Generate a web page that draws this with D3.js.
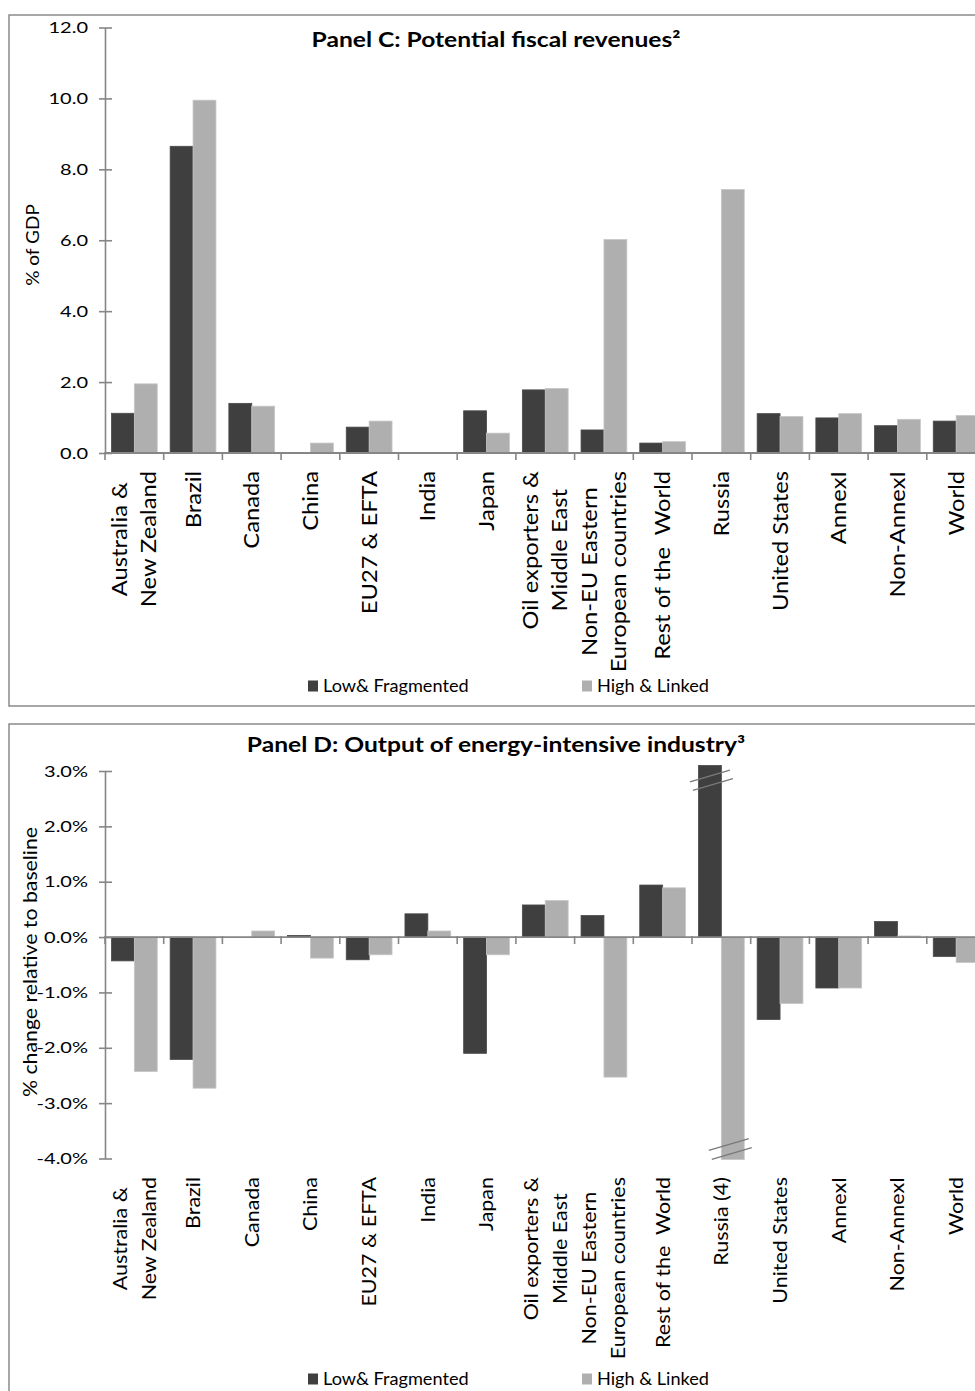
<!DOCTYPE html>
<html>
<head>
<meta charset="utf-8">
<script src="https://cdn.jsdelivr.net/npm/d3@7"></script>
<style>
  body { margin: 0; background: #fff; }
  svg { display: block; }
  text { font-family: Lato, "Open Sans", sans-serif; fill: #000; white-space: pre; }
</style>
</head>
<body>
<svg id="chart"></svg>
<script>
var width = 975;
var height = 1391;

// categories (each entry = lines of the rotated label)
var categoriesC = [["Australia &", "New Zealand"], ["Brazil"], ["Canada"], ["China"], ["EU27 & EFTA"],
  ["India"], ["Japan"], ["Oil exporters &", "Middle East"], ["Non-EU Eastern", "European countries"],
  ["Rest of the  World"], ["Russia"], ["United States"], ["AnnexI"], ["Non-AnnexI"], ["World"]];
var categoriesD = [["Australia &", "New Zealand"], ["Brazil"], ["Canada"], ["China"], ["EU27 & EFTA"],
  ["India"], ["Japan"], ["Oil exporters &", "Middle East"], ["Non-EU Eastern", "European countries"],
  ["Rest of the  World"], ["Russia (4)"], ["United States"], ["AnnexI"], ["Non-AnnexI"], ["World"]];

var seriesNames = ["Low& Fragmented", "High & Linked"];
var seriesColors = ["#3f3f3f", "#afafaf"];

// Panel C: % of GDP
var lowC  = [1.12, 8.65, 1.40, 0.00, 0.73, 0.00, 1.19, 1.78, 0.65, 0.28, 0.00, 1.11, 0.99, 0.77, 0.90];
var highC = [1.95, 9.95, 1.32, 0.28, 0.90, 0.00, 0.56, 1.82, 6.02, 0.32, 7.43, 1.03, 1.11, 0.95, 1.06];
var ticksC = [0, 2, 4, 6, 8, 10, 12];

// Panel D: % change relative to baseline (Russia values run off the axis, shown cut)
var lowD  = [-0.43, -2.21, 0.00, 0.03, -0.41, 0.42, -2.10, 0.58, 0.39, 0.94, 3.10, -1.49, -0.92, 0.28, -0.35];
var highD = [-2.43, -2.73, 0.11, -0.38, -0.32, 0.11, -0.32, 0.66, -2.53, 0.89, -4.02, -1.20, -0.92, 0.02, -0.46];
var ticksD = [-4, -3, -2, -1, 0, 1, 2, 3];

var SX = 1.13;          // text in the original is stretched along its reading direction
var axisColor = "#868686";

var svg = d3.select("#chart").attr("width", width).attr("height", height);

////////////////////////////////////////////////////////////////////////////////
//                                                                     Panels //
////////////////////////////////////////////////////////////////////////////////

drawPanel({
  box: [9, 15, 1010, 691],
  cats: categoriesC, low: lowC, high: highC, ticks: ticksC,
  domain: [0, 12], range: [453, 27.5],
  fmt: function(d) { return d.toFixed(1); },
  title: "Panel C: Potential fiscal revenues\u00b2", titleY: 47,
  yTitle: "% of GDP", yTitleX: 33, yTitleY: 245, yTitleSize: 17,
  labelTop: 471, labelSize: 21, legendY: 686,
  breaks: false
});

drawPanel({
  box: [9, 724, 1010, 700],
  cats: categoriesD, low: lowD, high: highD, ticks: ticksD,
  domain: [-4, 3], range: [1158.5, 771],
  fmt: function(d) { return d.toFixed(1) + "%"; },
  title: "Panel D: Output of energy-intensive industry\u00b3", titleY: 752,
  yTitle: "% change relative to baseline", yTitleX: 30, yTitleY: 962, yTitleSize: 19,
  labelTop: 1177, labelSize: 19, legendY: 1379,
  breaks: true
});

function drawPanel(o) {
  var g = svg.append("g");
  var n = o.cats.length;

  g.append("rect")
    .attr("x", o.box[0]).attr("y", o.box[1])
    .attr("width", o.box[2]).attr("height", o.box[3])
    .attr("fill", "#fff").attr("stroke", "#8a8a8a").attr("stroke-width", 1.5);

  var x0 = d3.scaleBand().domain(d3.range(n)).range([105, 105 + n * 58.7]);
  var bw = x0.bandwidth();
  var x1 = d3.scaleBand().domain([0, 1]).range([bw * 0.11, bw * 0.89]);
  var y = d3.scaleLinear().domain(o.domain).range(o.range);

  // bars
  [o.low, o.high].forEach(function(values, s) {
    g.append("g").selectAll("rect")
      .data(values)
      .join("rect")
        .attr("x", function(d, i) { return x0(i) + x1(s); })
        .attr("width", x1.bandwidth())
        .attr("y", function(d) { return Math.min(y(d), y(0)); })
        .attr("height", function(d) { return Math.abs(y(d) - y(0)); })
        .attr("fill", seriesColors[s])
        .attr("stroke", s == 0 ? "#4a4a4a" : "#c6c6c6")
        .attr("stroke-width", 0.8);
  });

  // axis break marks on the cut Russia bars
  if (o.breaks) {
    var ri = 10;
    var marks = [
      [x0(ri) + x1(0) + x1.bandwidth() / 2, y(3) + 5],
      [x0(ri) + x1(0) + x1.bandwidth() / 2 + 3, y(3) + 13.5],
      [x0(ri) + x1(1) + x1.bandwidth() / 2 - 4, y(-4) - 14],
      [x0(ri) + x1(1) + x1.bandwidth() / 2 - 1, y(-4) - 5]
    ];
    g.selectAll(".brk")
      .data(marks)
      .join("line")
        .attr("x1", function(d) { return d[0] - 20; })
        .attr("y1", function(d) { return d[1] + 5.8; })
        .attr("x2", function(d) { return d[0] + 20; })
        .attr("y2", function(d) { return d[1] - 5.8; })
        .attr("stroke", "#7a7a7a").attr("stroke-width", 1.4);
  }

  // y axis
  var ya = g.append("g")
    .attr("transform", "translate(105,0)")
    .call(d3.axisLeft(y).tickValues(o.ticks).tickSizeOuter(0).tickSizeInner(6).tickFormat(o.fmt));
  ya.select(".domain").attr("stroke", axisColor).attr("stroke-width", 1.6);
  ya.selectAll(".tick line").attr("x1", 7).attr("stroke", axisColor).attr("stroke-width", 1.6);
  ya.selectAll(".tick text")
    .attr("x", 0)
    .attr("transform", "translate(-17,0) scale(1.25,1)")
    .attr("font-family", null)
    .attr("font-size", 16)
    .attr("fill", "#000");

  // x axis line at zero with ticks between categories
  var y0 = y(0);
  g.append("line")
    .attr("x1", x0.range()[0]).attr("x2", x0.range()[1])
    .attr("y1", y0).attr("y2", y0)
    .attr("stroke", axisColor).attr("stroke-width", 1.8);
  g.append("g").selectAll("line")
    .data(d3.range(n + 1))
    .join("line")
      .attr("x1", function(i) { return i < n ? x0(i) : x0.range()[1]; })
      .attr("x2", function(i) { return i < n ? x0(i) : x0.range()[1]; })
      .attr("y1", y0 - 1).attr("y2", y0 + 7)
      .attr("stroke", axisColor).attr("stroke-width", 1.6);

  // category labels (rotated, lines centred on the longest one)
  o.cats.forEach(function(lines, i) {
    var cx = x0(i) + bw / 2;
    var m = lines.length;
    var texts = lines.map(function(line, j) {
      var lx = cx + (j - (m - 1) / 2) * 29;
      return g.append("text")
        .attr("transform", "translate(" + lx + ",0) rotate(-90) scale(" + SX + ",1)")
        .attr("dy", "0.36em")
        .attr("font-size", o.labelSize)
        .text(line);
    });
    var maxLen = d3.max(texts, function(t) { return t.node().getComputedTextLength(); });
    texts.forEach(function(t) {
      t.attr("x", -(o.labelTop + maxLen * SX / 2) / SX).attr("text-anchor", "middle");
    });
  });

  // title
  g.append("text")
    .attr("transform", "translate(496," + o.titleY + ") scale(1.2,1)")
    .attr("text-anchor", "middle")
    .attr("font-size", 20.5)
    .attr("font-weight", "bold")
    .text(o.title);

  // y axis title
  g.append("text")
    .attr("transform", "translate(" + o.yTitleX + "," + o.yTitleY + ") rotate(-90) scale(1.12,1)")
    .attr("text-anchor", "middle")
    .attr("dy", "0.35em")
    .attr("font-size", o.yTitleSize)
    .text(o.yTitle);

  // legend
  var lx = [308, 582];
  seriesNames.forEach(function(name, s) {
    g.append("rect")
      .attr("x", lx[s]).attr("y", o.legendY - 5.5)
      .attr("width", 10).attr("height", 11)
      .attr("fill", seriesColors[s]);
    g.append("text")
      .attr("transform", "translate(" + (lx[s] + 15) + "," + o.legendY + ") scale(1.1,1)")
      .attr("dy", "0.35em")
      .attr("font-size", 16.5)
      .text(name);
  });
}
</script>
</body>
</html>
